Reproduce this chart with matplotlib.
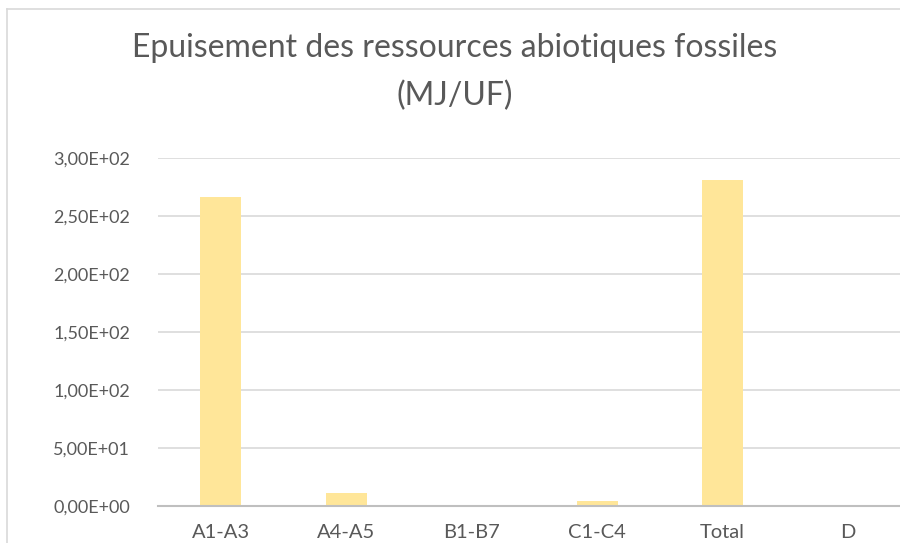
import matplotlib.pyplot as plt
from matplotlib.lines import Line2D
from matplotlib.ticker import FuncFormatter, MultipleLocator

categories = ["A1-A3", "A4-A5", "B1-B7", "C1-C4", "Total", "D"]
values = [266.0, 11.0, 0.0, 4.4, 281.0, 0.0]

title = "Epuisement des ressources abiotiques fossiles\n(MJ/UF)"
bar_color = "#FFE699"
text_color = "#595959"

plt.rcParams['font.family'] = ['Lato', 'DejaVu Sans']

fig = plt.figure(figsize=(9, 5.43), dpi=100)
# plot area runs off the right edge, like the cropped screenshot
ax = fig.add_axes([158 / 900, 37 / 543, 753 / 900, 348 / 543])

x = range(len(categories))
ax.bar(x, values, width=0.33, color=bar_color, zorder=2)

ax.set_xlim(-0.5, len(categories) - 0.5)
ax.set_ylim(0, 300)
ax.yaxis.set_major_locator(MultipleLocator(50))


def sci_fr(v, pos):
    s = "{:.2E}".format(v)
    return s.replace(".", ",")


ax.yaxis.set_major_formatter(FuncFormatter(sci_fr))
ax.set_xticks(list(x))
ax.set_xticklabels(categories)

ax.grid(axis='y', color="#D9D9D9", linewidth=1.2, zorder=0)
for side in ["top", "right", "left"]:
    ax.spines[side].set_visible(False)
ax.spines["bottom"].set_color("#BFBFBF")
ax.spines["bottom"].set_linewidth(1.5)
ax.spines["bottom"].set_zorder(3)

ax.tick_params(axis='both', length=0, colors=text_color)
ax.tick_params(axis='y', pad=20, labelsize=13)
ax.tick_params(axis='x', pad=13, labelsize=14.5)

fig.text(455 / 900, 1 - 72 / 543, title, ha='center', va='center',
         fontsize=23, color=text_color, linespacing=1.75)

# chart frame (top and left edges visible in the crop)
fig.add_artist(Line2D([7 / 900, 1], [1 - 9 / 543, 1 - 9 / 543],
                      transform=fig.transFigure, color="#D9D9D9", linewidth=1.2))
fig.add_artist(Line2D([7 / 900, 7 / 900], [0, 1 - 9 / 543],
                      transform=fig.transFigure, color="#D9D9D9", linewidth=1.2))

fig.savefig("out.png", dpi=100)
